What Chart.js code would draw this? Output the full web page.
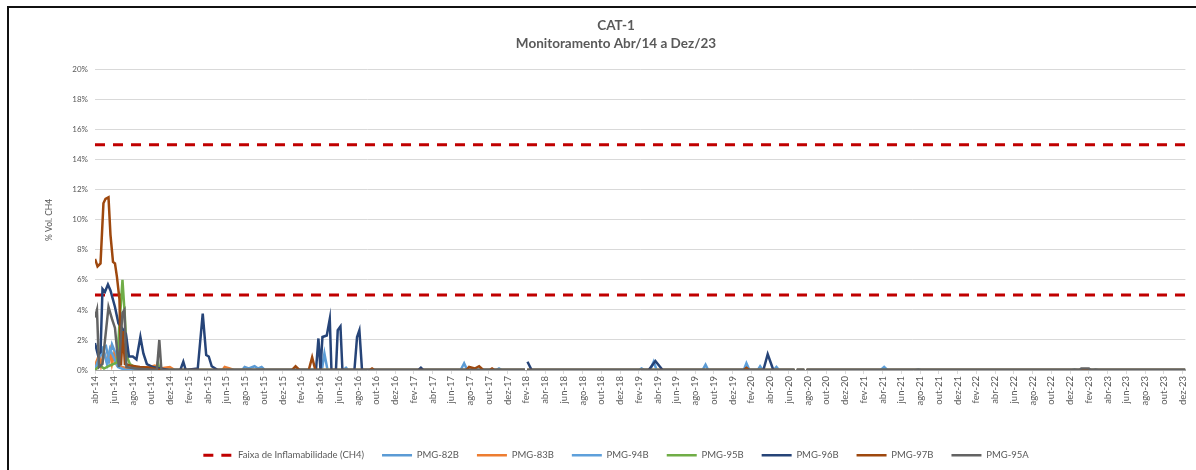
<!DOCTYPE html>
<html>
<head>
<meta charset="utf-8">
<script src="https://cdn.jsdelivr.net/npm/chart.js@4"></script>
<style>
  html, body { margin: 0; padding: 0; background: #fff; overflow: hidden; }
  #moldura { position: absolute; left: 7px; top: 6px; width: 1300px; height: 600px;
             border-left: 2px solid #111; border-top: 2px solid #111; pointer-events: none; }
  #grafico { position: absolute; left: 0; top: 0; }
</style>
</head>
<body>
<canvas id="grafico" width="1196" height="470"></canvas>
<div id="moldura"></div>
<script>
"use strict";

// x = meses desde abr/14, y = % Vol. CH4
const rotulosX = [
  'abr-14','jun-14','ago-14','out-14','dez-14',
  'fev-15','abr-15','jun-15','ago-15','out-15','dez-15',
  'fev-16','abr-16','jun-16','ago-16','out-16','dez-16',
  'fev-17','abr-17','jun-17','ago-17','out-17','dez-17',
  'fev-18','abr-18','jun-18','ago-18','out-18','dez-18',
  'fev-19','abr-19','jun-19','ago-19','out-19','dez-19',
  'fev-20','abr-20','jun-20','ago-20','out-20','dez-20',
  'fev-21','abr-21','jun-21','ago-21','out-21','dez-21',
  'fev-22','abr-22','jun-22','ago-22','out-22','dez-22',
  'fev-23','abr-23','jun-23','ago-23','out-23','dez-23'
];

const limiteInferior = [[0, 5], [116.3, 5]];
const limiteSuperior = [[0, 15], [116.3, 15]];

const pmg82B = [
  [0,0],[0.53,0.8],[0.85,1.5],[1.17,1.6],[1.49,0.6],[1.81,1.7],[2.13,1.2],[2.45,0.3],[3.19,0.1],[4.0,0],
  [15.7,0],[15.96,0.2],[16.4,0.1],[17.02,0.25],[17.4,0.1],[17.77,0.2],[18.1,0],
  [24.2,0],[24.47,1.1],[24.8,0],[26.5,0],[26.78,0.15],[27.0,0],
  [39.0,0],[39.37,0.45],[39.7,0],[42.8,0],[43.09,0.1],[43.4,0],
  [45.85,0],[45.97,null],[46.1,0],
  [58.0,0],[58.3,0.1],[58.6,0],[64.8,0],[65.12,0.35],[65.4,0],
  [70.7,0],[70.94,0.25],[71.2,0],[72.4,0],[72.68,0.2],[72.95,0],
  [74.6,0],[74.72,null],[74.85,0],[75.65,0],[75.77,null],[75.9,0],
  [87.5,0],[87.79,0.05],[88.1,0],[104.2,0],[104.49,0.05],[104.8,0],
  [106.5,0],[106.73,0.05],[107.0,0],[116.3,0]
];

const pmg83B = [
  [0,0.3],[0.43,1.0],[0.64,0.3],[0.96,1.2],[1.28,0.5],[1.6,1.3],[1.81,0.4],[2.02,1.0],[2.34,0.3],[2.66,0.2],
  [3.72,0.1],[5.85,0.2],[6.38,0.3],[6.92,0.1],[7.98,0.2],[8.51,0],
  [13.6,0],[13.83,0.2],[14.36,0.1],[14.8,0],
  [45.85,0],[45.97,null],[46.1,0],
  [74.6,0],[74.72,null],[74.85,0],[75.65,0],[75.77,null],[75.9,0],
  [116.3,0]
];

const pmg94B = [
  [0,0],[0.53,1.0],[0.96,1.2],[1.28,0.4],[1.6,1.4],[2.02,0.8],[2.45,0.2],[3.2,0],
  [45.85,0],[45.97,null],[46.1,0],
  [59.2,0],[59.59,0.55],[59.9,0],[69.2,0],[69.48,0.45],[69.8,0],
  [74.6,0],[74.72,null],[74.85,0],[75.65,0],[75.77,null],[75.9,0],
  [83.8,0],[84.17,0.2],[84.5,0],[116.3,0]
];

const pmg95B = [
  [0,0],[0.53,0.3],[0.96,0.1],[1.6,0.3],[2.34,0.5],[2.93,6.0],[3.19,3.5],[3.4,0.9],[3.72,0.4],
  [4.26,0.2],[5.32,0.1],[6.07,0],[6.5,0],[6.7,0.5],[6.9,0],
  [45.85,0],[45.97,null],[46.1,0],
  [74.6,0],[74.72,null],[74.85,0],[75.65,0],[75.77,null],[75.9,0],
  [116.3,0]
];

const pmg96B = [
  [0,1.8],[0.32,1.0],[0.59,1.2],[0.8,5.4],[1.06,5.2],[1.38,5.7],[1.65,5.3],[2.13,4.2],[2.5,3.1],
  [2.77,2.9],[3.3,2.4],[3.62,0.9],[4.04,0.9],[4.42,0.7],[4.84,2.2],[5.16,1.1],[5.53,0.4],[6.17,0.2],
  [6.92,0.1],[7.98,0],
  [9.1,0],[9.42,0.55],[9.68,0],[10.96,0.1],[11.49,3.75],[11.86,1.0],[12.13,0.9],[12.45,0.25],[13.09,0],
  [23.57,0],[23.83,2.1],[24.05,0],[24.26,2.2],[24.72,2.3],[25.04,3.4],[25.22,0],[25.7,0],[25.89,2.65],
  [26.18,2.9],[26.39,0],[27.67,0],[27.95,2.2],[28.2,2.65],[28.48,0],
  [34.5,0],[34.76,0.15],[35.0,0],
  [45.85,0],[45.97,null],[46.13,0.55],[46.57,0],
  [59.06,0],[59.77,0.6],[60.54,0],[71.29,0],[71.75,1.05],[72.35,0],
  [74.6,0],[74.72,null],[74.85,0],[75.65,0],[75.77,null],[75.9,0],
  [116.3,0]
];

const pmg97B = [
  [0,7.4],[0.27,6.9],[0.59,7.1],[0.9,11.1],[1.12,11.4],[1.44,11.5],[1.65,9.0],[1.92,7.2],[2.13,7.1],
  [2.34,6.2],[2.61,4.7],[2.77,0.3],[2.98,2.6],[3.19,0.4],[3.72,0.3],[4.79,0.2],[5.85,0.15],[6.92,0],
  [21.0,0],[21.39,0.25],[21.8,0],[22.8,0],[23.16,0.85],[23.5,0],[29.3,0],[29.55,0.1],[29.8,0],
  [39.6,0],[39.9,0.2],[40.5,0.1],[40.97,0.25],[41.4,0],[42.1,0],[42.35,0.1],[42.6,0],
  [45.85,0],[45.97,null],[46.1,0],
  [69.2,0],[69.48,0.15],[69.8,0],
  [74.6,0],[74.72,null],[74.85,0],[75.65,0],[75.77,null],[75.9,0],
  [116.3,0]
];

const pmg95A = [
  [0,3.5],[0.21,4.0],[0.43,0.2],[0.8,0.4],[1.44,4.2],[1.81,3.4],[2.13,2.8],[2.34,1.4],[2.55,0.2],
  [2.93,3.8],[3.14,4.0],[3.35,0.2],[4.26,0.1],[6.6,0],[6.86,2.0],[7.08,0],
  [45.85,0],[45.97,null],[46.1,0],
  [74.6,0],[74.72,null],[74.85,0],[75.65,0],[75.77,null],[75.9,0],
  [105.02,0],[105.2,0.1],[106.0,0.1],[106.19,0],
  [116.3,0]
];

const series = [
  { label: 'PMG-82B', dados: pmg82B, cor: '#5B9BD5' },
  { label: 'PMG-83B', dados: pmg83B, cor: '#ED7D31' },
  { label: 'PMG-94B', dados: pmg94B, cor: '#5EA0DB' },
  { label: 'PMG-95B', dados: pmg95B, cor: '#70AD47' },
  { label: 'PMG-96B', dados: pmg96B, cor: '#264478' },
  { label: 'PMG-97B', dados: pmg97B, cor: '#9E480E' },
  { label: 'PMG-95A', dados: pmg95A, cor: '#636363' }
];

const paraPontos = pares => pares.map(p => ({ x: p[0], y: p[1] }));

const faixa = label => ({
  label: label,
  borderColor: '#C00000',
  backgroundColor: '#C00000',
  borderWidth: 3,
  borderDash: [10, 8],
  pointRadius: 0,
  order: 20
});

const datasets = [
  Object.assign(faixa('Faixa de Inflamabilidade (CH4)'), { data: paraPontos(limiteInferior) }),
  Object.assign(faixa('limite superior'), { data: paraPontos(limiteSuperior) })
].concat(series.map((s, i) => ({
  label: s.label,
  data: paraPontos(s.dados),
  borderColor: s.cor,
  backgroundColor: s.cor,
  borderWidth: 2.5,
  pointRadius: 0,
  tension: 0,
  spanGaps: false,
  order: 10 - i
})));

Chart.defaults.font.family = 'Lato, "Open Sans", sans-serif';
Chart.defaults.color = '#595959';

const rotulosPadrao = Chart.defaults.plugins.legend.labels.generateLabels;

const ctx = document.getElementById('grafico').getContext('2d');
new Chart(ctx, {
  type: 'line',
  data: { datasets: datasets },
  options: {
    responsive: false,
    animation: false,
    layout: { padding: { left: 44, right: 8, top: 16, bottom: 0 } },
    plugins: {
      tooltip: { enabled: false },
      title: {
        display: true,
        text: ['CAT-1', 'Monitoramento Abr/14 a Dez/23'],
        color: '#595959',
        font: { size: 13.5, weight: 'bold', lineHeight: 1.36 },
        padding: { top: 0, bottom: 17 }
      },
      legend: {
        position: 'bottom',
        labels: {
          usePointStyle: true,
          pointStyle: 'line',
          pointStyleWidth: 30,
          boxHeight: 9,
          padding: 18,
          color: '#595959',
          font: { size: 9.5 },
          generateLabels: chart => rotulosPadrao(chart).map(item => {
            const ds = chart.data.datasets[item.datasetIndex];
            item.lineDash = ds.borderDash || [];
            item.lineWidth = ds.borderWidth;
            return item;
          }),
          filter: item => item.datasetIndex !== 1,
          sort: (a, b) => a.datasetIndex - b.datasetIndex
        }
      }
    },
    scales: {
      x: {
        type: 'linear',
        min: 0,
        max: 116.3,
        grid: { drawOnChartArea: false, drawTicks: true, tickLength: 4, color: '#d9d9d9' },
        border: { color: '#a6a6a6' },
        ticks: {
          stepSize: 2,
          includeBounds: false,
          autoSkip: false,
          minRotation: 90,
          maxRotation: 90,
          padding: 2,
          font: { size: 9.5 },
          color: '#595959',
          callback: v => rotulosX[Math.round(v / 2)] || ''
        },
        afterFit: scale => { scale.height = 62.5; }
      },
      y: {
        min: 0,
        max: 20,
        grid: { color: '#d9d9d9', drawTicks: false },
        border: { display: false },
        ticks: {
          stepSize: 2,
          padding: 7,
          font: { size: 8 },
          color: '#595959',
          callback: v => v + '%'
        },
        title: {
          display: true,
          text: '% Vol. CH4',
          color: '#595959',
          font: { size: 8.5 },
          padding: 0
        },
        afterFit: scale => { scale.width = 51; }
      }
    }
  }
});
</script>
</body>
</html>
